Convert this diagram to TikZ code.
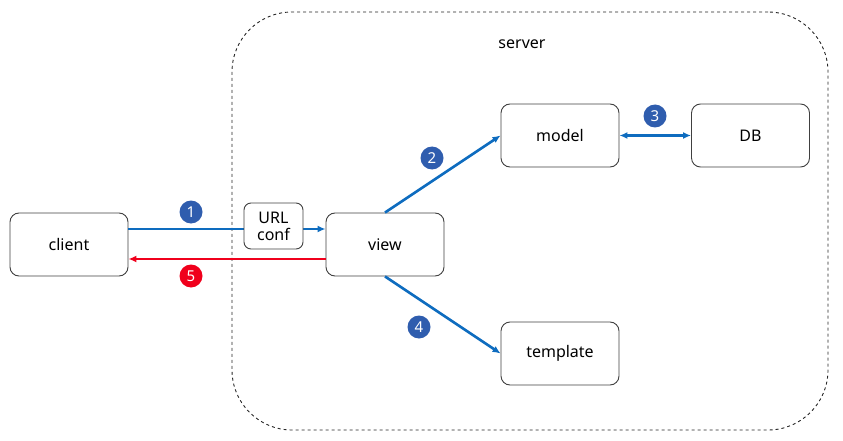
\documentclass[tikz,border=0pt]{standalone}
\usepackage{fontspec}
\setmainfont{Noto Sans}
\usetikzlibrary{arrows.meta}
\definecolor{lineblue}{HTML}{0E6CBF}
\definecolor{circblue}{HTML}{2F5DAE}
\definecolor{linered}{HTML}{F0001C}
\definecolor{boxgray}{HTML}{404040}
\tikzset{
  box/.style={draw=boxgray, line width=0.9pt, rounded corners=9pt, fill=white, inner sep=0pt, font=\fontsize{16}{18}\selectfont},
  conn/.style={draw=lineblue, line width=2.6pt, -{Latex[length=8pt,width=7pt]}},
  badge/.style={circle, fill=#1, text=white, inner sep=0pt, minimum size=23pt, font=\fontsize{15}{15}\selectfont},
}
\begin{document}
\begin{tikzpicture}[x=1pt,y=-1pt]
\useasboundingbox (0,0) rectangle (843,441);
\node[draw=black!85, dashed, line width=0.9pt, rounded corners=60pt, minimum width=596pt, minimum height=418pt, inner sep=0pt] (server) at (530,221) {};
\node[font=\fontsize{16}{18}\selectfont] (serverlbl) at (522,44) {server};
\node[box, minimum width=118pt, minimum height=63pt] (client) at (69,244.5) {client};
\node[box, minimum width=118pt, minimum height=63pt] (view) at (385,244.5) {view};
\node[box, minimum width=118pt, minimum height=63pt] (model) at (560,135.5) {model};
\node[box, minimum width=118pt, minimum height=63pt] (db) at (750.5,135.5) {DB};
\node[box, minimum width=118pt, minimum height=63pt] (template) at (560,353.5) {template};
% arrows
\draw[conn] (client.east |- 0,229) -- (view.west |- 0,229);
\node[box, rounded corners=7pt, minimum width=59pt, minimum height=46pt, align=center, font=\fontsize{16}{17}\selectfont] (url) at (273.5,226) {URL\\conf};
\draw[conn, draw=linered, -{Latex[length=8pt,width=7pt]}] (view.west |- 0,259) -- (client.east |- 0,259);
\draw[conn] (view.north) -- (model.west);
\draw[conn, {Latex[length=8pt,width=7pt]}-{Latex[length=8pt,width=7pt]}] (model.east) -- (db.west);
\draw[conn] (view.south) -- (template.west);
% badges
\node[badge=circblue] (b1) at (191,212) {1};
\node[badge=linered] (b5) at (191,276) {5};
\node[badge=circblue] (b2) at (432,158) {2};
\node[badge=circblue] (b3) at (655,116) {3};
\node[badge=circblue] (b4) at (419,327) {4};
\end{tikzpicture}
\end{document}
